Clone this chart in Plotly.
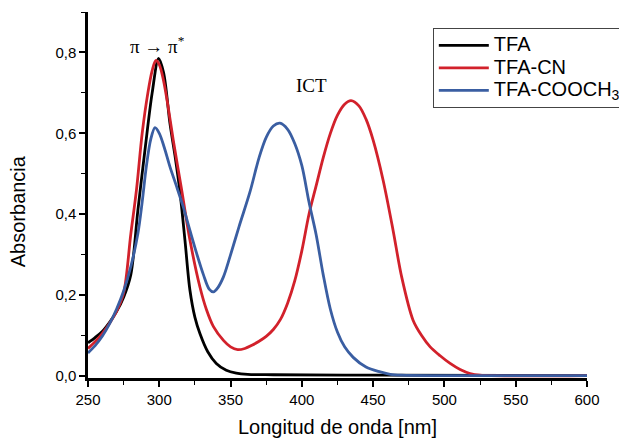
import plotly.graph_objects as go

# TFA
wl_tfa = [250, 255, 260, 265, 270, 275, 280, 285, 290, 295, 299.5, 303, 307.5, 311, 314.5, 318, 321.5, 325, 328.5, 334, 340, 347, 354, 362, 380, 450, 600]
abs_tfa = [0.082, 0.095, 0.11, 0.132, 0.159, 0.195, 0.25, 0.41, 0.56, 0.7, 0.785, 0.75, 0.624, 0.545, 0.455, 0.336, 0.212, 0.145, 0.105, 0.06, 0.031, 0.014, 0.007, 0.004, 0.003, 0.002, 0.001]

# TFA-CN
wl_cn = [250, 255, 260, 265, 270, 275, 280, 284, 288, 292, 295, 297.5, 300, 303, 306, 309.8, 315.7, 321.5, 328.5, 333, 338, 345, 350, 355, 360, 365, 370, 375, 380, 385, 390, 395, 400, 405, 410, 415, 420, 425, 430, 434.5, 440, 445, 450, 457, 464, 470, 478, 484, 490, 497, 504, 511, 518, 525, 600]
abs_cn = [0.068, 0.085, 0.105, 0.13, 0.16, 0.205, 0.35, 0.46, 0.6, 0.7, 0.755, 0.78, 0.77, 0.73, 0.67, 0.583, 0.46, 0.336, 0.22, 0.165, 0.122, 0.088, 0.072, 0.065, 0.068, 0.076, 0.086, 0.098, 0.115, 0.14, 0.18, 0.235, 0.31, 0.4, 0.47, 0.54, 0.6, 0.645, 0.672, 0.681, 0.668, 0.635, 0.583, 0.484, 0.36, 0.245, 0.138, 0.1, 0.072, 0.05, 0.031, 0.016, 0.006, 0.002, 0.001]

# TFA-COOCH3
wl_cooch3 = [250, 255, 260, 265, 270, 275, 280, 285, 288, 291, 294, 297, 300, 303.5, 307.5, 312, 316.8, 321.5, 326.2, 331, 335, 338, 341, 345, 349.6, 356, 363.6, 370, 375, 380, 384.6, 390, 395, 400, 405, 410, 415, 420, 425, 430, 436, 445, 455, 462, 470, 600]
abs_cooch3 = [0.057, 0.075, 0.098, 0.128, 0.165, 0.21, 0.27, 0.352, 0.43, 0.52, 0.585, 0.614, 0.6, 0.565, 0.517, 0.47, 0.418, 0.36, 0.303, 0.25, 0.215, 0.208, 0.218, 0.245, 0.295, 0.37, 0.455, 0.54, 0.59, 0.618, 0.625, 0.61, 0.575, 0.52, 0.43, 0.35, 0.25, 0.165, 0.108, 0.072, 0.046, 0.022, 0.01, 0.004, 0.002, 0.001]

x_ticks = [250, 300, 350, 400, 450, 500, 550, 600]
y_ticks = [0.0, 0.2, 0.4, 0.6, 0.8]

series_names = ["TFA", "TFA-CN", "TFA-COOCH<sub>3</sub>"]
series_colors = ["#000000", "#d2212b", "#3a5ea2"]
series_x = [wl_tfa, wl_cn, wl_cooch3]
series_y = [abs_tfa, abs_cn, abs_cooch3]

fig = go.Figure()
for name, x, y, c in zip(series_names, series_x, series_y, series_colors):
    fig.add_trace(go.Scatter(
        x=x, y=y, mode="lines",
        name='<span style="font-size:20px">' + name + '</span>',
        line=dict(color=c, width=2.8, shape="spline", smoothing=0.9)))

sans = "Liberation Sans, Arial, sans-serif"
fig.update_layout(
    width=619, height=438,
    margin=dict(l=88, r=32, t=12, b=60, autoexpand=False),
    paper_bgcolor="white", plot_bgcolor="white",
    separators=",.",
    font=dict(family=sans, size=15, color="#000000"),
    showlegend=True,
    legend=dict(x=0.691, y=0.956, xanchor="left", yanchor="top",
                bordercolor="#444444", borderwidth=1, bgcolor="white",
                font=dict(family=sans, size=15),
                tracegroupgap=0, itemwidth=50),
    xaxis=dict(range=[250, 600], tickvals=x_ticks, showgrid=False, zeroline=False,
               automargin=False,
               showline=True, linecolor="black", linewidth=2.5, ticks="outside",
               ticklen=6, tickwidth=1.5, tickcolor="black",
               minor=dict(dtick=25, ticks="outside", ticklen=4, tickwidth=1.2, tickcolor="black"),
               title=dict(text="Longitud de onda [nm]", font=dict(size=20), standoff=14)),
    yaxis=dict(range=[-0.005, 0.9], tickvals=y_ticks, tickformat=".1f", showgrid=False,
               automargin=False,
               zeroline=False, showline=True, linecolor="black", linewidth=2.5,
               ticks="outside", ticklen=6, tickwidth=1.5, tickcolor="black",
               minor=dict(dtick=0.1, ticks="outside", ticklen=4, tickwidth=1.2, tickcolor="black")),
)

# y-axis title placed slightly below the axis centre, as in the original
fig.add_annotation(x=-0.14, y=0.456, xref="paper", yref="paper", text="Absorbancia",
                   textangle=-90, showarrow=False, xanchor="center", yanchor="middle",
                   font=dict(family=sans, size=20, color="black"))

fig.add_annotation(x=298.5, y=0.818, xref="x", yref="y", text="π → π<sup>*</sup>",
                   showarrow=False, font=dict(family="Liberation Serif, serif", size=19, color="black"))
fig.add_annotation(x=407, y=0.718, xref="x", yref="y", text="ICT",
                   showarrow=False, font=dict(family="Liberation Serif, serif", size=19, color="black"))

fig.write_html("out.html")
